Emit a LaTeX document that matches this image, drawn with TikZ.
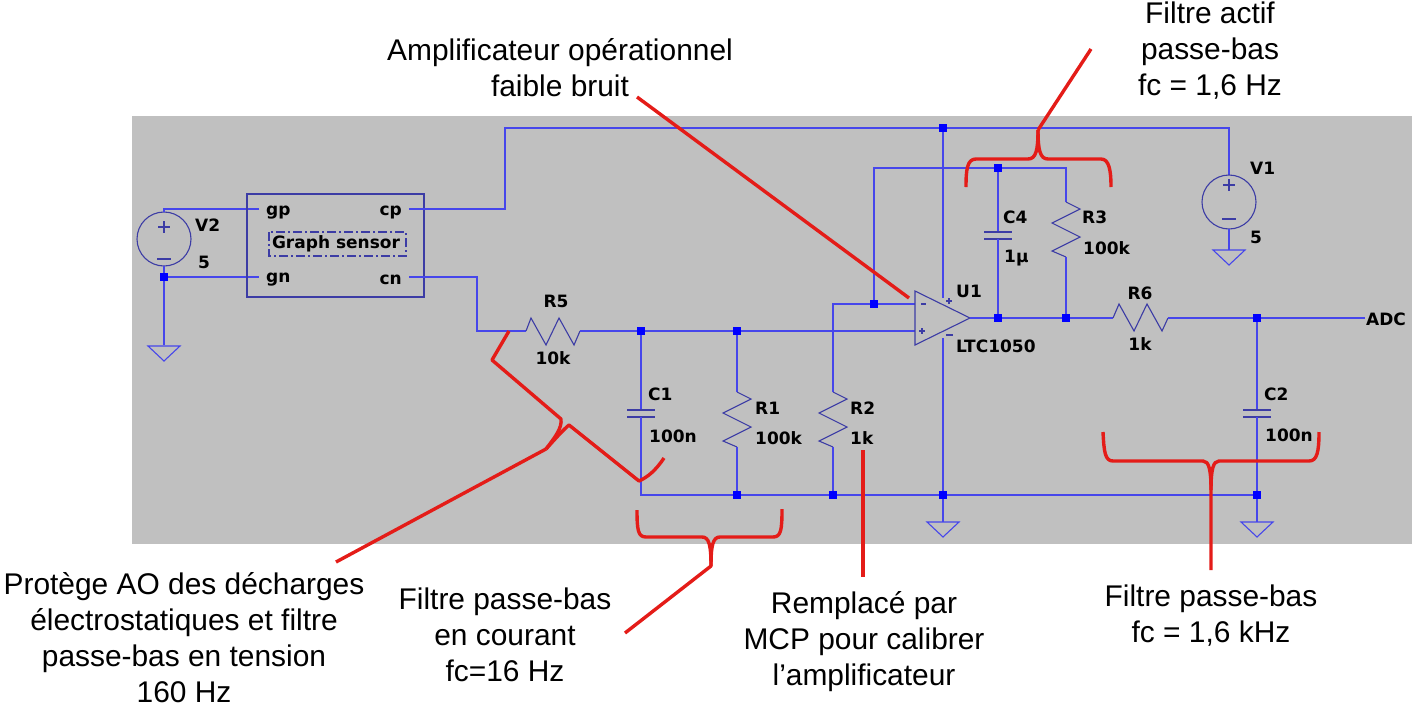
\documentclass[tikz,border=0pt]{standalone}
\usepackage{fontspec}
\setmainfont{Liberation Sans}
\newfontfamily\schfont{DejaVu Sans}
\newfontfamily\annofont{Liberation Sans}
\definecolor{wireblue}{RGB}{70,70,235}
\definecolor{symblue}{RGB}{60,60,165}
\definecolor{junc}{RGB}{0,0,255}
\definecolor{anno}{RGB}{228,28,24}
\definecolor{bggray}{RGB}{192,192,192}
\tikzset{
  x=1pt,y=-1pt,
  wire/.style={draw=wireblue,line width=1.4pt},
  sym/.style={draw=symblue,line width=1.1pt},
  mark0/.style={fill=junc,inner sep=0pt,minimum size=7.5pt,rectangle},
  slabel/.style={font=\schfont\bfseries\fontsize{17}{18}\selectfont,text=black,inner sep=0pt},
  alabel/.style={font=\annofont\fontsize{29.9}{36}\selectfont,text=black,align=center,inner sep=0pt},
  redline/.style={draw=anno,line width=3.4pt,line join=round},
}
\newcommand{\gnd}[2]{\draw[sym,draw=wireblue] (#1-16,#2) -- (#1+16,#2) -- (#1,#2+15) -- cycle;}
\newcommand{\resV}[2]{% x, top y
  \draw[sym] (#1,#2) -- (#1+14,#2+7) -- (#1-14,#2+21) -- (#1+14,#2+35) -- (#1-14,#2+49) -- (#1,#2+55);}
\begin{document}
\begin{tikzpicture}
\useasboundingbox (0,0) rectangle (1418,707);
\fill[bggray] (132,116) rectangle (1412,544);
% named points
\coordinate (v2top) at (164,209);
\coordinate (v2bot) at (164,277);
\coordinate (topbus) at (943,128);
\coordinate (fb) at (874,304);
\coordinate (ctop) at (998,168);
\coordinate (cout) at (998,318);
\coordinate (rout) at (1066,318);
\coordinate (n1) at (641,331);
\coordinate (n2) at (737,331);
\coordinate (b1) at (737,495);
\coordinate (b2) at (833,495);
\coordinate (b3) at (943,495);
\coordinate (b4) at (1257,495);
\coordinate (n3) at (1257,318);
% V2
\draw[sym] (164,239) circle (27);
\draw[sym] (158,227)--(170,227) (164,221)--(164,233) (157,259)--(171,259);
\draw[wire] (259,209) -| (164,212);
\draw[wire] (164,266) -- (164,345);
\draw[wire] (164,277) -- (259,277);
\gnd{164}{346}
\node[slabel,anchor=west] (lv2) at (195,225) {V2};
\node[slabel,anchor=west] (l5a) at (198,262) {5};
% Sensor
\draw[sym] (247,194) rectangle (424,297);
\draw[sym,dash pattern=on 9pt off 3pt on 2pt off 3pt] (269,232) rectangle (406,256);
\node[slabel,anchor=center] (gs) at (336,244) {Graph sensor};
\node[slabel,anchor=west] (gp) at (266,213) {gp};
\node[slabel,anchor=west] (gn) at (266,280) {gn};
\node[slabel,anchor=east] (cp) at (402,213) {cp};
\node[slabel,anchor=east] (cn) at (402,280) {cn};
\draw[wire] (409,209) -- (505,209) -- (505,128) -- (1229,128) -- (1229,175);
\draw[wire] (409,277) -- (477,277) -- (477,331) -- (526,331);
% R5
\draw[sym] (526,331) -- (531,318) -- (546,345) -- (559,318) -- (574,345) -- (580,331);
\draw[wire] (580,331) -- (915,331);
\node[slabel] (r5) at (556,301) {R5};
\node[slabel] (r5v) at (553,358) {10k};
% C1
\draw[wire] (641,331) -- (641,410);
\draw[sym] (627,410)--(655,410) (627,417)--(655,417);
\draw[wire] (641,417) -- (641,495) -- (1257,495);
\node[slabel,anchor=west] (c1) at (648,394) {C1};
\node[slabel,anchor=west] (c1v) at (649,436) {100n};
% R1
\draw[wire] (737,331) -- (737,392);
\resV{737}{392}
\draw[wire] (737,447) -- (737,495);
\node[slabel,anchor=west] (r1) at (755,408) {R1};
\node[slabel,anchor=west] (r1v) at (755,438) {100k};
% R2
\draw[wire] (915,304) -- (833,304) -- (833,392);
\resV{833}{392}
\draw[wire] (833,447) -- (833,495);
\node[slabel,anchor=west] (r2) at (850,408) {R2};
\node[slabel,anchor=west] (r2v) at (850,438) {1k};
% opamp
\draw[sym] (915,291) -- (970,318) -- (915,345) -- cycle;
\draw[sym] (921,304)--(926,304) (919,331)--(925,331) (922,328)--(922,334);
\draw[sym] (946,301)--(952,301) (949,298)--(949,304) (946,335)--(953,335);
\draw[wire] (943,128) -- (943,298);
\draw[wire] (943,338) -- (943,522);
\gnd{943}{522}
\node[slabel,anchor=west] (u1) at (956,291) {U1};
\node[slabel,anchor=west] (ltc) at (956,346) {LTC1050};
% feedback
\draw[wire] (874,304) -- (874,168) -- (1066,168) -- (1066,202);
\draw[wire] (970,318) -- (1113,318);
\draw[wire] (998,168) -- (998,232);
\draw[sym] (984,232)--(1012,232) (984,239)--(1012,239);
\draw[wire] (998,239) -- (998,318);
\resV{1066}{202}
\draw[wire] (1066,257) -- (1066,318);
\node[slabel,anchor=west] (c4) at (1003,217) {C4};
\node[slabel,anchor=west] (c4v) at (1004,258) {1µ};
\node[slabel,anchor=west] (r3) at (1082,217) {R3};
\node[slabel,anchor=west] (r3v) at (1083,248) {100k};
% R6
\draw[sym] (1113,318) -- (1119,304) -- (1134,331) -- (1147,304) -- (1162,331) -- (1168,318);
\draw[wire] (1168,318) -- (1365,318);
\node[slabel] (r6) at (1140,293) {R6};
\node[slabel] (r6v) at (1140,344) {1k};
\node[slabel,anchor=west] (adc) at (1366,319) {ADC};
% C2
\draw[wire] (1257,318) -- (1257,410);
\draw[sym] (1243,410)--(1271,410) (1243,417)--(1271,417);
\draw[wire] (1257,417) -- (1257,522);
\gnd{1257}{522}
\node[slabel,anchor=west] (c2) at (1264,394) {C2};
\node[slabel,anchor=west] (c2v) at (1265,435) {100n};
% V1
\draw[sym] (1229,202) circle (27);
\draw[sym] (1223,185)--(1235,185) (1229,179)--(1229,191) (1222,219)--(1236,219);
\draw[wire] (1229,229) -- (1229,250);
\gnd{1229}{250}
\node[slabel,anchor=west] (v1) at (1250,168) {V1};
\node[slabel,anchor=west] (l5b) at (1250,237) {5};
% junctions
\foreach \p in {v2bot,topbus,fb,ctop,cout,rout,n1,n2,b1,b2,b3,b4,n3}
  \node[mark0] at (\p) {};
% annotations
\draw[redline] (637,97) -- (909,298);
% top brace
\draw[redline] (1091,49) -- (1038,130);
\draw[redline] (966,187) .. controls (966,170) and (967,159) .. (976,159) -- (1028,159) .. controls (1036,159) and (1038,150) .. (1038,130);
\draw[redline] (1111,187) .. controls (1111,170) and (1109,159) .. (1101,159) -- (1048,159) .. controls (1040,159) and (1038,150) .. (1038,130);
% zigzag brace
\draw[redline] (509,331) -- (492,360) -- (561,419) .. controls (562,428) and (556,436) .. (546,449);
\draw[redline] (664,458) .. controls (656,470) and (648,477) .. (639,481) -- (569,425) .. controls (563,430) and (556,438) .. (546,449);
\draw[redline] (546,449) -- (336,562);
% bottom-left brace
\draw[redline] (637,510) .. controls (637,530) and (638,537) .. (646,537) -- (702,537) .. controls (709,537) and (711,545) .. (711,566);
\draw[redline] (782,509) .. controls (782,530) and (781,537) .. (773,537) -- (720,537) .. controls (713,537) and (711,545) .. (711,566) -- (625,633);
% R2 pointer
\draw[redline] (863,450) -- (863,577);
% bottom-right brace
\draw[redline] (1103,432) .. controls (1104,452) and (1105,461) .. (1113,461) -- (1203,461) .. controls (1209,461) and (1211,470) .. (1211,490) -- (1211,570);
\draw[redline] (1319,432) .. controls (1319,452) and (1317,461) .. (1309,461) -- (1219,461) .. controls (1213,461) and (1211,470) .. (1211,490);
% texts
\node[alabel] (t1) at (560,68) {Amplificateur opérationnel\\faible bruit};
\node[alabel] (t2) at (1210,51) {Filtre actif\\passe-bas\\fc = 1,6 Hz};
\node[alabel] (t3) at (184,638) {Protège AO des décharges\\électrostatiques et filtre\\passe-bas en tension\\160 Hz};
\node[alabel] (t4) at (505,635) {Filtre passe-bas\\en courant\\fc=16 Hz};
\node[alabel] (t5) at (864,642) {Remplacé par\\MCP pour calibrer\\l’amplificateur};
\node[alabel] (t6) at (1211,616) {Filtre passe-bas\\fc = 1,6 kHz};
\end{tikzpicture}
\end{document}
